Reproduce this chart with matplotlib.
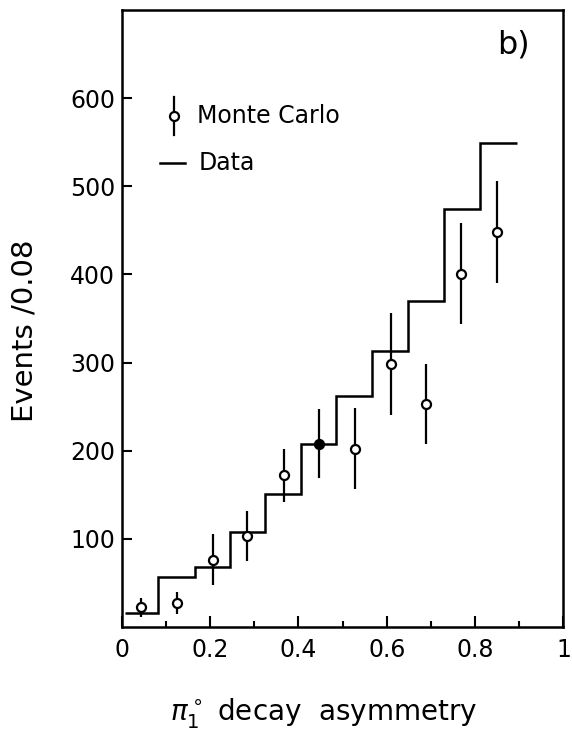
import numpy as np
import matplotlib
matplotlib.use("Agg")
import matplotlib.pyplot as plt
from matplotlib.ticker import MultipleLocator

# data histogram (bin edges and contents)
bin_edges = [0.008, 0.083, 0.165, 0.245, 0.325, 0.405, 0.485, 0.567, 0.647, 0.73, 0.81, 0.896]
data_counts = [16, 56, 68, 107, 151, 207, 262, 313, 370, 474, 549]

# Monte Carlo points with errors
mc_x = [0.044, 0.124, 0.206, 0.284, 0.367, 0.447, 0.527, 0.610, 0.688, 0.768, 0.849]
mc_y = [22, 27, 76, 103, 172, 208, 202, 298, 253, 401, 448]
mc_err = [11, 12, 29, 28, 30, 39, 46, 58, 45, 57, 58]
mc_filled = [False, False, False, False, False, True, False, False, False, False, False]

x_ticks = [0, 0.2, 0.4, 0.6, 0.8, 1]
x_ticklabels = ["0", "0.2", "0.4", "0.6", "0.8", "1"]
y_ticks = [100, 200, 300, 400, 500, 600]

plt.rcParams['font.family'] = ['DejaVu Sans']

fig = plt.figure(figsize=(5.72, 7.33), dpi=100)
ax = fig.add_axes([0.213, 0.145, 0.772, 0.841])

# histogram for the data
ax.stairs(data_counts, bin_edges, baseline=None, color="black", linewidth=1.8)

# monte carlo points
ax.errorbar(mc_x, mc_y, yerr=mc_err, fmt="none", ecolor="black", elinewidth=1.6)
for x, y, f in zip(mc_x, mc_y, mc_filled):
    ax.plot(x, y, "o", ms=6.5, mew=1.6, mec="black", mfc="black" if f else "white", zorder=3)

ax.set_xlim(0, 1)
ax.set_ylim(0, 700)
ax.set_xticks(x_ticks)
ax.set_xticklabels(x_ticklabels)
ax.xaxis.set_minor_locator(MultipleLocator(0.1))
ax.set_yticks(y_ticks)

for s in ax.spines.values():
    s.set_linewidth(1.8)
ax.tick_params(axis="x", which="major", direction="in", length=8, width=1.5, labelsize=17, pad=8)
ax.tick_params(axis="x", which="minor", direction="in", length=4.5, width=1.5)
ax.tick_params(axis="y", which="major", direction="in", length=7, width=1.5, labelsize=17, pad=5)

ax.set_ylabel("Events /0.08", fontsize=21)
ax.yaxis.set_label_coords(-0.188, 0.48)
ax.set_xlabel(r"$\pi_1^\circ$ decay  asymmetry", fontsize=20)
ax.xaxis.set_label_coords(0.458, -0.112)

# legend drawn by hand
ta = ax.transAxes
ax.plot([0.1175, 0.1175], [0.797, 0.859], color="black", lw=1.6, transform=ta)
ax.plot([0.1175], [0.828], "o", ms=6.5, mew=1.6, mec="black", mfc="white", transform=ta)
ax.text(0.17, 0.828, "Monte Carlo", fontsize=17, va="center", ha="left", transform=ta)
ax.plot([0.086, 0.142], [0.752, 0.752], color="black", lw=1.8, transform=ta)
ax.text(0.175, 0.752, "Data", fontsize=17, va="center", ha="left", transform=ta)

ax.text(0.887, 0.943, "b)", fontsize=23, va="center", ha="center", transform=ta)

fig.savefig("out.png", dpi=100)
